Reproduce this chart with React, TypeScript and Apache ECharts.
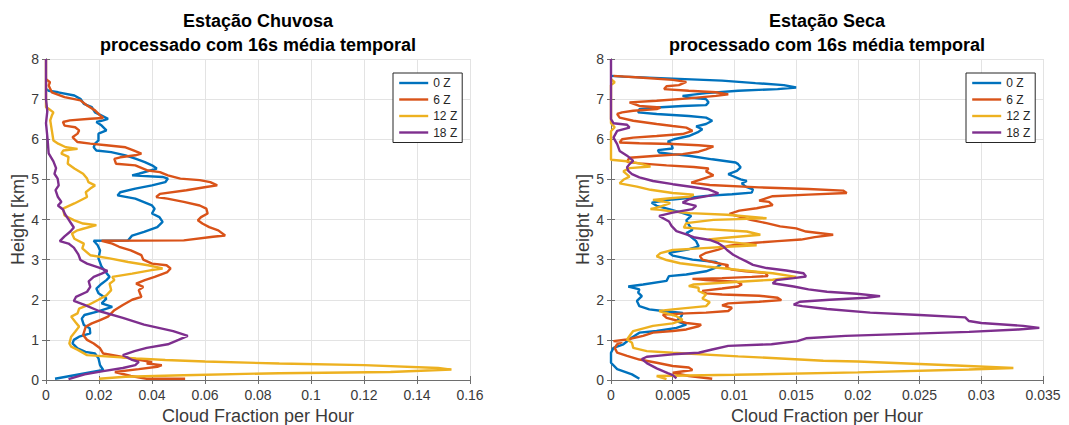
import React, { useEffect, useRef } from "react";
import * as echarts from "echarts";

type P = [number, number]; // [cloud fraction, height km]

const seriesNames = ["0 Z", "6 Z", "12 Z", "18 Z"];
const seriesColors = ["#0072BD", "#D95319", "#EDB120", "#7E2F8E"];

const panelTitles = [
  "Estação Chuvosa\nprocessado com 16s média temporal",
  "Estação Seca\nprocessado com 16s média temporal",
];
const xAxisTitle = "Cloud Fraction per Hour";
const yAxisTitle = "Height [km]";

const heightRange = [0, 8, 1];
const wetXRange = [0, 0.16, 0.02];
const dryXRange = [0, 0.035, 0.005];

// ---------- Estação Chuvosa ----------
const wet0Z: P[] = [
  [0.0034,0.03],[0.0216,0.25],[0.0204,0.37],[0.0198,0.54],[0.0185,0.66],[0.0149,0.7],[0.0119,0.79],[0.010,0.91],
  [0.0105,1.0],[0.0125,1.08],[0.0167,1.16],[0.0165,1.29],[0.0143,1.37],[0.0135,1.53],[0.0145,1.62],[0.019,1.7],
  [0.025,1.82],[0.021,1.91],[0.0228,2.03],[0.0198,2.16],[0.019,2.28],[0.021,2.4],[0.0228,2.49],[0.024,2.57],
  [0.0225,2.69],[0.021,2.82],[0.0198,3.03],[0.0204,3.23],[0.0195,3.36],[0.018,3.47],[0.031,3.48],[0.0325,3.6],
  [0.037,3.69],[0.042,3.81],[0.044,3.94],[0.0428,4.06],[0.040,4.15],[0.041,4.27],[0.040,4.35],[0.0337,4.52],
  [0.027,4.6],[0.028,4.68],[0.0337,4.77],[0.040,4.85],[0.045,4.93],[0.046,5.02],[0.044,5.06],[0.0325,5.1],
  [0.035,5.14],[0.0418,5.27],[0.040,5.35],[0.0373,5.43],[0.034,5.51],[0.030,5.6],[0.0246,5.68],[0.019,5.72],
  [0.018,5.8],[0.0185,5.89],[0.0198,5.97],[0.0198,6.14],[0.0228,6.22],[0.021,6.34],[0.019,6.43],[0.0216,6.47],
  [0.0234,6.51],[0.021,6.59],[0.0185,6.67],[0.0173,6.8],[0.0143,6.88],[0.0131,7.0],[0.0107,7.09],[0.0046,7.17],
  [0.001,7.21],[0,7.25],
];
const wet6Z: P[] = [
  [0.0525,0.03],[0.038,0.03],[0.032,0.1],[0.026,0.2],[0.035,0.27],[0.042,0.33],[0.0437,0.37],[0.038,0.41],
  [0.040,0.45],[0.035,0.5],[0.030,0.56],[0.0216,0.66],[0.0204,0.79],[0.018,0.91],[0.0155,1.0],[0.014,1.12],
  [0.015,1.33],[0.0173,1.41],[0.0204,1.49],[0.0234,1.58],[0.0258,1.74],[0.029,1.87],[0.0325,2.0],[0.036,2.07],
  [0.035,2.24],[0.0367,2.32],[0.034,2.4],[0.0373,2.49],[0.041,2.57],[0.0458,2.69],[0.047,2.78],[0.0455,2.86],
  [0.040,2.9],[0.0367,3.0],[0.036,3.11],[0.032,3.23],[0.0276,3.32],[0.025,3.4],[0.021,3.47],[0.052,3.48],
  [0.063,3.57],[0.0676,3.6],[0.065,3.73],[0.0616,3.81],[0.059,3.9],[0.0573,3.98],[0.0585,4.06],[0.061,4.15],
  [0.0605,4.27],[0.058,4.35],[0.052,4.44],[0.0458,4.52],[0.0416,4.56],[0.043,4.64],[0.053,4.73],[0.0604,4.81],
  [0.0646,4.85],[0.062,4.93],[0.058,4.98],[0.0507,5.02],[0.046,5.1],[0.043,5.18],[0.0385,5.22],[0.0337,5.35],
  [0.0264,5.39],[0.0258,5.51],[0.028,5.55],[0.0337,5.6],[0.036,5.64],[0.033,5.72],[0.030,5.8],[0.0228,5.85],
  [0.0167,5.89],[0.0119,5.93],[0.010,6.05],[0.0119,6.14],[0.0125,6.22],[0.011,6.3],[0.007,6.34],[0.0064,6.43],
  [0.009,6.47],[0.0167,6.51],[0.0216,6.53],[0.0205,6.59],[0.0185,6.72],[0.0155,6.84],[0.013,6.97],[0.007,7.05],
  [0.0022,7.17],[0.001,7.34],[0.0015,7.42],[0,7.5],
];
const wet12Z: P[] = [
  [0.020,0.03],[0.03,0.08],[0.052,0.12],[0.088,0.17],[0.13,0.2],[0.153,0.26],[0.148,0.3],[0.12,0.37],
  [0.088,0.41],[0.06,0.46],[0.045,0.5],[0.034,0.54],[0.0155,0.62],[0.012,0.75],[0.0095,0.83],[0.0088,0.91],
  [0.0095,1.08],[0.011,1.2],[0.0125,1.33],[0.011,1.45],[0.0095,1.58],[0.0119,1.66],[0.0125,1.78],[0.016,1.87],
  [0.0198,2.0],[0.0228,2.11],[0.0246,2.24],[0.024,2.4],[0.0258,2.49],[0.025,2.57],[0.0325,2.65],[0.0398,2.74],
  [0.044,2.78],[0.0385,2.86],[0.031,2.94],[0.024,3.03],[0.0167,3.11],[0.0137,3.28],[0.0143,3.4],[0.0107,3.52],
  [0.0098,3.65],[0.0119,3.73],[0.014,3.77],[0.019,3.86],[0.014,3.9],[0.0107,3.98],[0.007,4.1],[0.0064,4.27],
  [0.0107,4.4],[0.0155,4.56],[0.015,4.68],[0.0167,4.77],[0.0185,4.85],[0.016,4.93],[0.0155,5.02],[0.014,5.14],
  [0.0107,5.27],[0.0082,5.39],[0.0085,5.56],[0.0058,5.64],[0.0065,5.72],[0.0119,5.76],[0.0075,5.8],[0.0046,5.89],
  [0.0028,5.97],[0.0022,6.22],[0.0016,6.47],[0.0022,6.59],[0.0028,6.67],[0.001,6.76],[0,6.8],[0,8],
];
const wet18Z: P[] = [
  [0.0085,0.02],[0.0146,0.14],[0.0216,0.22],[0.029,0.3],[0.0337,0.37],[0.035,0.45],[0.0322,0.51],[0.029,0.62],
  [0.0334,0.72],[0.038,0.8],[0.046,0.89],[0.050,1.0],[0.0535,1.1],[0.048,1.22],[0.037,1.38],[0.029,1.55],
  [0.020,1.72],[0.0143,1.88],[0.0105,1.97],[0.0113,2.07],[0.0155,2.2],[0.0167,2.32],[0.0161,2.46],[0.018,2.57],
  [0.021,2.65],[0.0232,2.72],[0.020,2.8],[0.0155,2.9],[0.013,2.99],[0.0122,3.13],[0.0105,3.3],[0.0085,3.4],
  [0.0052,3.46],[0.007,3.58],[0.0092,3.7],[0.0105,3.8],[0.0095,3.9],[0.0083,4.02],[0.0072,4.13],[0.0064,4.25],
  [0.0045,4.35],[0.0058,4.44],[0.0045,4.56],[0.0036,4.73],[0.0048,4.85],[0.0044,5.02],[0.0032,5.14],[0.0038,5.28],
  [0.0028,5.45],[0.001,5.65],[0.0006,6.0],[0,6.4],[0.0005,6.7],[0,7.0],[0,8],
];

// ---------- Estação Seca ----------
const dry0Z: P[] = [
  [0.0023,0.03],[0.0017,0.14],[0.0005,0.27],[0,0.43],[0,0.68],[0.0002,0.8],[0.001,0.89],[0.0017,1.06],
  [0.0023,1.18],[0.0037,1.22],[0.0053,1.3],[0.0061,1.38],[0.0053,1.47],[0.0057,1.59],[0.0058,1.67],[0.0042,1.72],
  [0.0031,1.76],[0.0023,1.84],[0.0021,1.97],[0.0025,2.09],[0.0022,2.18],[0.0023,2.26],[0.0014,2.33],[0.0026,2.38],
  [0.0045,2.47],[0.0047,2.59],[0.0061,2.63],[0.0077,2.71],[0.0085,2.8],[0.0089,2.88],[0.0085,2.94],[0.0066,3.0],
  [0.005,3.1],[0.0047,3.17],[0.0062,3.25],[0.0071,3.33],[0.0069,3.46],[0.0065,3.56],[0.0061,3.66],[0.0066,3.74],
  [0.0063,3.87],[0.0061,3.98],[0.0065,4.09],[0.0057,4.17],[0.0047,4.26],[0.0037,4.34],[0.0033,4.42],[0.005,4.5],
  [0.0066,4.55],[0.0077,4.59],[0.0098,4.63],[0.0114,4.67],[0.0115,4.75],[0.0109,4.82],[0.0106,4.9],[0.011,4.96],
  [0.0105,5.0],[0.0098,5.09],[0.0095,5.13],[0.0102,5.21],[0.0105,5.3],[0.0103,5.38],[0.0101,5.42],[0.0082,5.5],
  [0.0063,5.59],[0.005,5.63],[0.0039,5.67],[0.0038,5.73],[0.005,5.77],[0.0049,5.88],[0.0046,5.94],[0.0051,6.0],
  [0.0063,6.08],[0.007,6.17],[0.0074,6.25],[0.0069,6.32],[0.0077,6.38],[0.0082,6.46],[0.0077,6.54],[0.0063,6.58],
  [0.0037,6.63],[0.0022,6.67],[0.0023,6.75],[0.0037,6.79],[0.0058,6.83],[0.0077,6.85],[0.0079,6.92],[0.0077,7.0],
  [0.0063,7.04],[0.0058,7.08],[0.0077,7.15],[0.0103,7.21],[0.0135,7.25],[0.015,7.29],[0.014,7.35],[0.0117,7.4],
  [0.009,7.46],[0.005,7.51],[0.001,7.56],[0,7.58],
];
const dry6Z: P[] = [
  [0.0082,0.03],[0.0063,0.1],[0.005,0.18],[0.0066,0.25],[0.0063,0.31],[0.005,0.35],[0.0037,0.43],[0.0023,0.51],
  [0.0013,0.6],[0.0005,0.68],[0.0003,0.8],[0.0005,0.89],[0.0009,0.95],[0.0002,0.97],[0.0013,1.01],[0.0026,1.1],
  [0.0034,1.18],[0.005,1.22],[0.0061,1.26],[0.0071,1.34],[0.0073,1.38],[0.0061,1.42],[0.0045,1.55],[0.0042,1.63],
  [0.0061,1.66],[0.0077,1.68],[0.0095,1.72],[0.0098,1.8],[0.009,1.86],[0.0095,1.91],[0.012,1.95],[0.0138,1.99],
  [0.0135,2.05],[0.012,2.1],[0.009,2.13],[0.0077,2.16],[0.0074,2.22],[0.009,2.28],[0.0103,2.33],[0.0106,2.38],
  [0.0102,2.45],[0.0077,2.49],[0.0066,2.52],[0.009,2.54],[0.0114,2.57],[0.0127,2.59],[0.0125,2.67],[0.0109,2.71],
  [0.0098,2.75],[0.0093,2.81],[0.0095,2.86],[0.0085,2.92],[0.0074,3.0],[0.0072,3.09],[0.0077,3.17],[0.0087,3.25],
  [0.0095,3.34],[0.0103,3.38],[0.0117,3.42],[0.0135,3.46],[0.0154,3.5],[0.0165,3.56],[0.018,3.62],[0.0158,3.7],
  [0.015,3.78],[0.0137,3.83],[0.0126,3.91],[0.0113,3.99],[0.0104,4.07],[0.0096,4.14],[0.0104,4.22],[0.0118,4.28],
  [0.0131,4.36],[0.0128,4.44],[0.012,4.47],[0.0126,4.53],[0.0131,4.58],[0.016,4.62],[0.0191,4.66],[0.0188,4.72],
  [0.016,4.76],[0.012,4.8],[0.008,4.86],[0.0065,4.92],[0.0075,5.02],[0.0083,5.1],[0.0077,5.2],[0.0079,5.27],
  [0.0067,5.31],[0.0045,5.35],[0.0023,5.4],[0.0013,5.44],[0.0015,5.54],[0.0037,5.59],[0.0058,5.63],[0.0071,5.69],
  [0.0077,5.75],[0.0083,5.82],[0.0071,5.85],[0.005,5.88],[0.0023,5.9],[0.0007,5.92],[0.0009,6.0],[0.0018,6.04],
  [0.0037,6.08],[0.0058,6.13],[0.0066,6.21],[0.0061,6.29],[0.005,6.33],[0.0037,6.38],[0.0018,6.46],[0.0007,6.54],
  [0.0005,6.63],[0.0009,6.67],[0.0018,6.71],[0.0037,6.75],[0.004,6.79],[0.0023,6.83],[0.0015,6.92],[0.0037,6.96],
  [0.0063,7.02],[0.0085,7.08],[0.0095,7.12],[0.0085,7.17],[0.0063,7.21],[0.0043,7.25],[0.0045,7.32],[0.0055,7.35],
  [0.0061,7.43],[0.005,7.48],[0.0023,7.54],[0.0002,7.58],
];
const dry12Z: P[] = [
  [0.0045,0.02],[0.0037,0.1],[0.01,0.13],[0.02,0.19],[0.029,0.26],[0.0326,0.3],[0.028,0.36],[0.02,0.46],
  [0.0172,0.48],[0.0103,0.59],[0.005,0.68],[0.0029,0.72],[0.0018,0.8],[0.0017,0.93],[0.0013,1.01],[0.0016,1.14],
  [0.0018,1.22],[0.0034,1.35],[0.005,1.41],[0.0058,1.5],[0.0053,1.59],[0.0045,1.66],[0.0039,1.72],[0.005,1.76],
  [0.0077,1.84],[0.008,1.94],[0.0074,2.03],[0.0077,2.13],[0.0071,2.22],[0.0071,2.3],[0.0063,2.34],[0.0067,2.38],
  [0.0104,2.45],[0.0131,2.5],[0.015,2.57],[0.0131,2.66],[0.0104,2.74],[0.0077,2.83],[0.0056,2.91],[0.0045,2.99],
  [0.0037,3.08],[0.004,3.16],[0.005,3.24],[0.0072,3.28],[0.0094,3.32],[0.0118,3.36],[0.0094,3.45],[0.0079,3.5],
  [0.0091,3.54],[0.0121,3.62],[0.011,3.7],[0.0077,3.76],[0.0059,3.8],[0.0061,3.91],[0.0083,3.99],[0.0126,4.03],
  [0.0094,4.12],[0.0064,4.16],[0.005,4.2],[0.004,4.24],[0.0032,4.26],[0.004,4.32],[0.0048,4.41],[0.0042,4.45],
  [0.0034,4.49],[0.0048,4.53],[0.0064,4.57],[0.0067,4.62],[0.005,4.66],[0.0032,4.74],[0.0021,4.82],[0.0007,4.9],
  [0.001,4.99],[0.0015,5.07],[0.001,5.2],[0.0015,5.28],[0.0032,5.32],[0.0023,5.4],[0.0013,5.45],[0,5.49],
  [0,6.2],[0.0003,6.3],[0,6.4],[0,7.35],[0.0003,7.42],[0,7.5],
];
const dry18Z: P[] = [
  [0.0053,0.04],[0.005,0.12],[0.0046,0.17],[0.0037,0.29],[0.0029,0.42],[0.0025,0.52],[0.0029,0.58],[0.005,0.64],
  [0.0071,0.68],[0.0082,0.76],[0.0095,0.85],[0.013,0.89],[0.0151,0.97],[0.0158,1.04],[0.019,1.1],[0.024,1.15],
  [0.029,1.2],[0.033,1.26],[0.0347,1.3],[0.0334,1.35],[0.030,1.42],[0.029,1.47],[0.0287,1.56],[0.025,1.62],
  [0.021,1.68],[0.0175,1.77],[0.0155,1.84],[0.0148,1.88],[0.0153,1.95],[0.0177,2.0],[0.0207,2.05],[0.0218,2.09],
  [0.0199,2.15],[0.0175,2.2],[0.016,2.26],[0.0148,2.33],[0.0131,2.41],[0.0134,2.49],[0.0148,2.54],[0.0158,2.58],
  [0.0156,2.66],[0.0142,2.73],[0.0126,2.79],[0.0115,2.87],[0.011,2.95],[0.0104,3.04],[0.0099,3.12],[0.0094,3.24],
  [0.0091,3.33],[0.0087,3.41],[0.008,3.49],[0.0068,3.55],[0.0061,3.63],[0.0053,3.71],[0.0049,3.84],[0.0047,3.95],
  [0.0043,4.02],[0.0039,4.09],[0.005,4.17],[0.0066,4.26],[0.0069,4.34],[0.0058,4.42],[0.0063,4.5],[0.0079,4.59],
  [0.0087,4.65],[0.0079,4.75],[0.0066,4.81],[0.005,4.88],[0.0034,4.96],[0.0023,5.05],[0.0017,5.13],[0.0014,5.21],
  [0.0013,5.3],[0.0015,5.38],[0.0018,5.46],[0.0013,5.59],[0.0007,5.71],[0.0005,5.88],[0.0002,6.04],[0.0005,6.21],
  [0.0015,6.29],[0.0013,6.36],[0.0002,6.4],[0,6.5],[0,8],
];

const wetData = [wet0Z, wet6Z, wet12Z, wet18Z];
const dryData = [dry0Z, dry6Z, dry12Z, dry18Z];

const FONT = "'Liberation Sans', Arial, Helvetica, sans-serif";
const AXIS_COLOR = "#6e6e6e";
const LABEL_COLOR = "#3a3a3a";
const GRID_COLOR = "#e3e3e3";

function buildOption() {
  const grids = [
    { left: 46, right: 599, top: 59, bottom: 45, containLabel: false, outerBoundsMode: "none" },
    { left: 611, right: 26, top: 59, bottom: 45, containLabel: false, outerBoundsMode: "none" },
  ];
  const xRanges = [wetXRange, dryXRange];
  const xAxis: any[] = [];
  const yAxis: any[] = [];
  for (let g = 0; g < 2; g++) {
    const [mn, mx, step] = xRanges[g];
    xAxis.push({
      type: "value", gridIndex: g, position: "bottom", min: mn, max: mx, interval: step,
      name: xAxisTitle, nameLocation: "middle", nameGap: 25,
      nameTextStyle: { fontSize: 18, color: LABEL_COLOR, fontFamily: FONT },
      axisLine: { show: true, lineStyle: { color: AXIS_COLOR, width: 1 } },
      axisTick: { show: true, inside: true, length: 4, lineStyle: { color: AXIS_COLOR } },
      axisLabel: { fontSize: 14, color: LABEL_COLOR, fontFamily: FONT, margin: 8, showMaxLabel: true, showMinLabel: true },
      splitLine: { show: true, lineStyle: { color: GRID_COLOR, width: 1 } },
    });
    xAxis.push({
      type: "value", gridIndex: g, position: "top", min: mn, max: mx, interval: step,
      axisLine: { show: true, lineStyle: { color: AXIS_COLOR, width: 1 } },
      axisTick: { show: true, inside: true, length: 4, lineStyle: { color: AXIS_COLOR } },
      axisLabel: { show: false },
      splitLine: { show: false },
    });
    yAxis.push({
      type: "value", gridIndex: g, position: "left",
      min: heightRange[0], max: heightRange[1], interval: heightRange[2],
      name: yAxisTitle, nameLocation: "middle", nameGap: 19,
      nameTextStyle: { fontSize: 18, color: LABEL_COLOR, fontFamily: FONT },
      axisLine: { show: true, lineStyle: { color: AXIS_COLOR, width: 1 } },
      axisTick: { show: true, inside: true, length: 4, lineStyle: { color: AXIS_COLOR } },
      axisLabel: { fontSize: 14, color: LABEL_COLOR, fontFamily: FONT, margin: 7 },
      splitLine: { show: true, lineStyle: { color: GRID_COLOR, width: 1 } },
    });
    yAxis.push({
      type: "value", gridIndex: g, position: "right",
      min: heightRange[0], max: heightRange[1], interval: heightRange[2],
      axisLine: { show: true, lineStyle: { color: AXIS_COLOR, width: 1 } },
      axisTick: { show: true, inside: true, length: 4, lineStyle: { color: AXIS_COLOR } },
      axisLabel: { show: false },
      splitLine: { show: false },
    });
  }

  const series: any[] = [];
  [wetData, dryData].forEach((panel, g) => {
    panel.forEach((data, i) => {
      series.push({
        type: "line",
        name: seriesNames[i],
        xAxisIndex: g * 2,
        yAxisIndex: g * 2,
        data,
        symbol: "none",
        showSymbol: false,
        smooth: false,
        clip: true,
        z: 2 + i,
        lineStyle: { color: seriesColors[i], width: 2.4 },
        itemStyle: { color: seriesColors[i] },
        emphasis: { disabled: true },
      });
    });
  });

  const legendBase = {
    orient: "vertical",
    top: 73,
    data: seriesNames,
    itemWidth: 29,
    itemHeight: 12,
    itemGap: 4.5,
    padding: [4, 5, 4, 5],
    borderColor: "#262626",
    borderWidth: 1,
    borderRadius: 0,
    backgroundColor: "#ffffff",
    selectedMode: false,
    itemStyle: { opacity: 0 },
    lineStyle: { width: 2.4 },
    textStyle: { fontSize: 12, color: "#262626", fontFamily: FONT },
  };

  const titleCenters = [258, 827];
  const graphic = panelTitles.map((t, g) => ({
    type: "text",
    x: titleCenters[g],
    y: 9,
    silent: true,
    style: {
      text: t,
      textAlign: "center",
      textVerticalAlign: "top",
      fontSize: 18,
      fontWeight: "bold",
      fontFamily: FONT,
      lineHeight: 24,
      fill: "#000000",
    },
  }));

  return {
    animation: false,
    backgroundColor: "#ffffff",
    grid: grids,
    xAxis,
    yAxis,
    series,
    legend: [
      { ...legendBase, left: 393 },
      { ...legendBase, left: 966 },
    ],
    graphic,
  };
}

export default function App() {
  const ref = useRef<HTMLDivElement>(null);
  useEffect(() => {
    if (!ref.current) return;
    const chart = echarts.init(ref.current, undefined, { renderer: "svg" });
    chart.setOption(buildOption() as any);
    return () => chart.dispose();
  }, []);
  return (
    <div
      ref={ref}
      style={{ position: "fixed", left: 0, top: 0, width: 1069, height: 425, background: "#fff" }}
    />
  );
}
